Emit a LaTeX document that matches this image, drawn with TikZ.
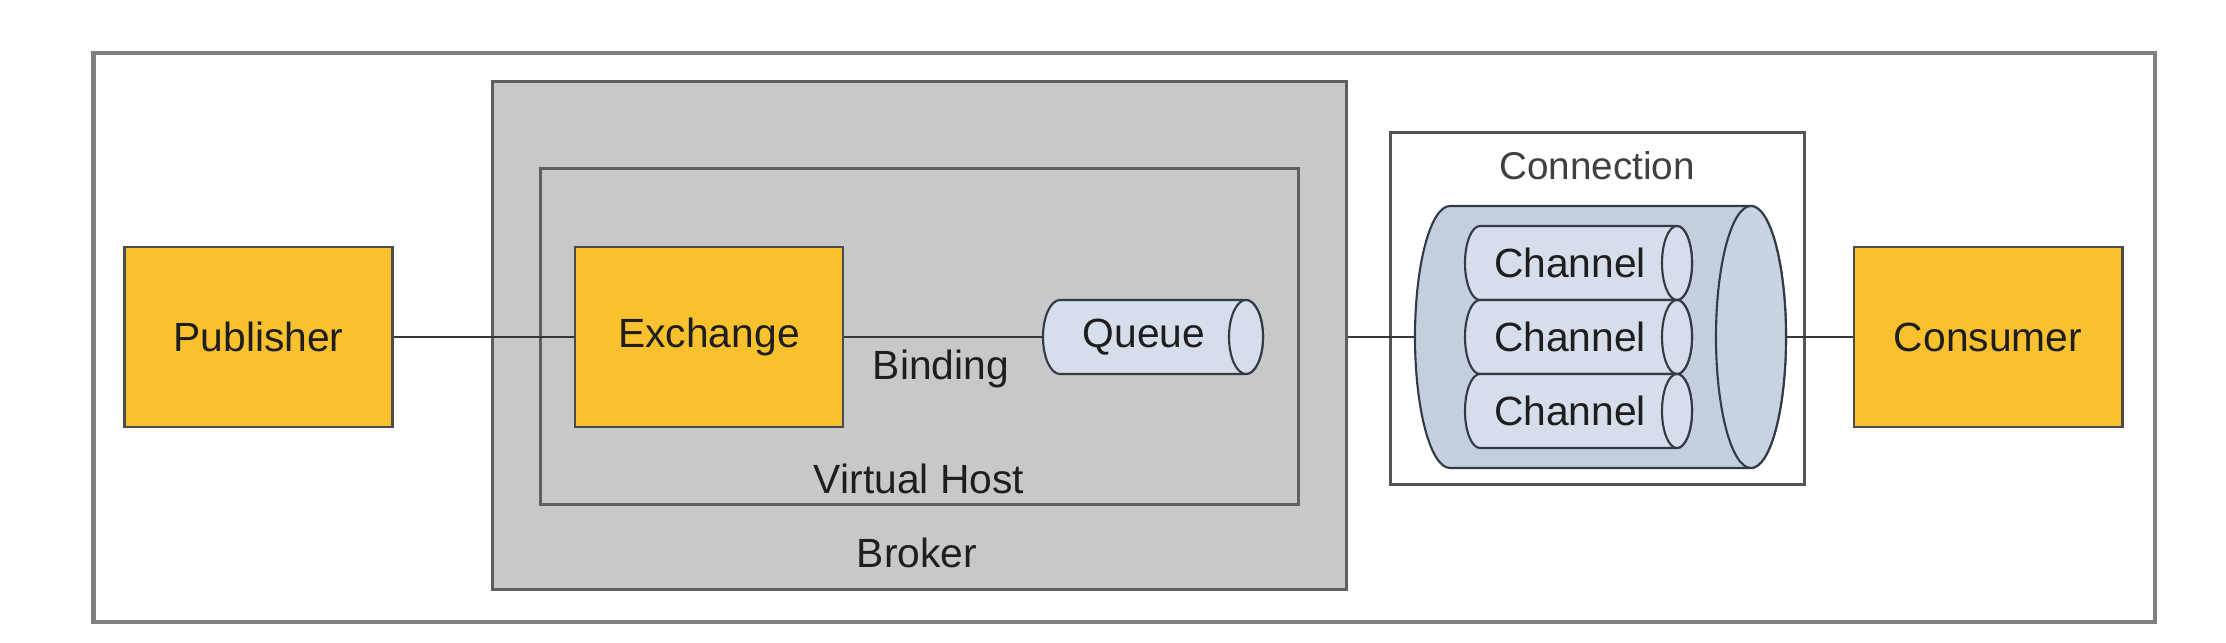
\documentclass[tikz,border=0pt]{standalone}
\usepackage{fontspec}
\setmainfont{Liberation Sans}
\definecolor{boxyellow}{RGB}{250,193,46}
\definecolor{boxgray}{RGB}{199,200,202}
\definecolor{framegray}{RGB}{128,128,128}
\definecolor{lineDark}{RGB}{55,55,55}
\definecolor{cylbody}{RGB}{196,206,222}
\definecolor{cylend}{RGB}{200,210,226}
\definecolor{chanbody}{RGB}{214,222,236}
\definecolor{cylline}{RGB}{50,58,70}
\definecolor{txt}{RGB}{30,30,30}
\tikzset{
  outerframe/.style={draw=framegray, line width=1.2pt, fill=white, inner sep=0pt},
  graybox/.style={draw=lineDark!80, line width=0.9pt, fill=boxgray, inner sep=0pt},
  ybox/.style={draw=lineDark!90, line width=0.8pt, fill=boxyellow, inner sep=0pt,
    minimum width=2.68cm, minimum height=1.8cm, text=txt},
  connbox/.style={draw=lineDark!85, line width=0.8pt, fill=white, inner sep=0pt},
  lbl/.style={anchor=base, text=txt, inner sep=0pt},
  ghost/.style={inner sep=0pt},
  cyl/.style={draw=cylline, line width=0.6pt},
  conn/.style={draw=lineDark, line width=0.7pt},
}
% horizontal cylinder: left x, right x, centre y, rx, ry, body fill, end fill
\newcommand\drawhcyl[7]{%
  \filldraw[cyl, fill=#6] ({#1+#4},{#3+#5}) -- ({#2-#4},{#3+#5})
    arc[start angle=90, end angle=-90, x radius={#4*0.01cm}, y radius={#5*0.01cm}]
    -- ({#1+#4},{#3-#5})
    arc[start angle=270, end angle=90, x radius={#4*0.01cm}, y radius={#5*0.01cm}]
    -- cycle;
  \filldraw[cyl, fill=#7] ({#2-#4},#3) ellipse[x radius={#4*0.01cm}, y radius={#5*0.01cm}];
}
\begin{document}
\begin{tikzpicture}[x=0.01cm, y=0.01cm, font=\fontsize{11.6}{14}\selectfont]
\useasboundingbox (0,0) rectangle (2226,642);
\fill[white] (0,0) rectangle (2226,642);

% outer frame
\node[outerframe, minimum width=20.6cm, minimum height=5.69cm] (outer) at (1124,304.5) {};

% broker and virtual host
\node[graybox, minimum width=8.53cm, minimum height=5.07cm] (broker) at (919.5,306.5) {};
\node[graybox, minimum width=7.57cm, minimum height=3.35cm] (vhost) at (919.5,305.5) {};
\node[lbl] (brokerlbl) at (917,74) {Broker};
\node[lbl] (vhostlbl) at (919,149) {Virtual Host};

% yellow boxes
\node[ybox] (publisher) at (258.5,305) {Publisher};
\node[ybox] (exchange) at (709,305) {Exchange};
\node[ybox] (consumer) at (1988,305) {Consumer};

% queue
\node[ghost, minimum width=2.2cm, minimum height=0.74cm] (queue) at (1153,305) {};
\drawhcyl{1043}{1263}{305}{17}{37}{chanbody}{chanbody}
\node[text=txt] (queuetext) at (1144,305) {Queue};

% binding label
\node[lbl] (binding) at (941,262) {Binding};

% connection box
\node[connbox, minimum width=4.13cm, minimum height=3.51cm] (connbox) at (1597.5,333.5) {};
\node[lbl, font=\fontsize{11}{13}\selectfont, text=txt!85] (connlbl) at (1597,462) {Connection};

% connection cylinder with channels
\node[ghost, minimum width=3.71cm, minimum height=2.62cm] (conncyl) at (1600.5,305) {};
\drawhcyl{1415}{1786}{305}{35}{131}{cylbody}{cylend}
\drawhcyl{1465}{1692}{379}{15}{37}{chanbody}{chanbody}
\drawhcyl{1465}{1692}{305}{15}{37}{chanbody}{chanbody}
\drawhcyl{1465}{1692}{231}{15}{37}{chanbody}{chanbody}
\node[text=txt] (chan1) at (1570,379) {Channel};
\node[text=txt] (chan2) at (1570,305) {Channel};
\node[text=txt] (chan3) at (1570,231) {Channel};

% connectors
\draw[conn] (publisher.east) -- (exchange.west);
\draw[conn] (exchange.east) -- (queue.west);
\draw[conn] (conncyl.west -| broker.east) -- (conncyl.west);
\draw[conn] (conncyl.east) -- (consumer.west);
\end{tikzpicture}
\end{document}
